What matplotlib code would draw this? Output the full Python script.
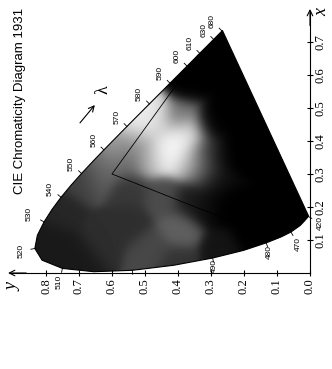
import numpy as np
import matplotlib.pyplot as plt
from matplotlib.patches import Polygon

# CIE 1931 spectral locus: wavelength (nm) and chromaticity x, y
wavelengths = [380, 390, 400, 410, 420, 430, 440, 450, 460, 470, 475, 480, 485, 490, 495,
               500, 505, 510, 515, 520, 525, 530, 535, 540, 545, 550, 555, 560, 565, 570,
               575, 580, 585, 590, 595, 600, 605, 610, 615, 620, 625, 630, 640, 650, 660,
               680, 700]
locus_x = [0.1741, 0.1738, 0.1733, 0.1726, 0.1714, 0.1689, 0.1644, 0.1566, 0.1440, 0.1241,
           0.1096, 0.0913, 0.0687, 0.0454, 0.0235, 0.0082, 0.0039, 0.0139, 0.0389, 0.0743,
           0.1142, 0.1547, 0.1929, 0.2296, 0.2658, 0.3016, 0.3373, 0.3731, 0.4087, 0.4441,
           0.4788, 0.5125, 0.5448, 0.5752, 0.6029, 0.6270, 0.6482, 0.6658, 0.6801, 0.6915,
           0.7006, 0.7079, 0.7190, 0.7260, 0.7300, 0.7334, 0.7347]
locus_y = [0.0050, 0.0049, 0.0048, 0.0048, 0.0051, 0.0069, 0.0109, 0.0177, 0.0297, 0.0578,
           0.0868, 0.1327, 0.2007, 0.2950, 0.4127, 0.5384, 0.6548, 0.7502, 0.8120, 0.8338,
           0.8262, 0.8059, 0.7816, 0.7543, 0.7243, 0.6923, 0.6589, 0.6245, 0.5896, 0.5547,
           0.5202, 0.4866, 0.4544, 0.4242, 0.3965, 0.3725, 0.3514, 0.3340, 0.3197, 0.3083,
           0.2993, 0.2920, 0.2809, 0.2740, 0.2700, 0.2666, 0.2653]

label_nm = [420, 470, 480, 490, 510, 520, 530, 540, 550, 560, 570, 580, 590, 600, 610, 630, 680]
tick_nm = label_nm + [500]
label_gap = {480: 10, 490: 8, 530: 17}

ticks_x = [0.1, 0.2, 0.3, 0.4, 0.5, 0.6, 0.7]
ticks_y = [0.0, 0.1, 0.2, 0.3, 0.4, 0.5, 0.6, 0.7, 0.8]

# inner triangle (two sides visible in the print)
gamut_x = [0.66, 0.30, 0.13]
gamut_y = [0.34, 0.60, 0.17]

# grey level of the print read at some spots
shade = [  # (x, y, level)
    (0.390, 0.410, 1.00), (0.360, 0.450, 0.95), (0.420, 0.370, 0.90), (0.340, 0.370, 0.85),
    (0.440, 0.460, 0.80), (0.350, 0.500, 0.65), (0.480, 0.400, 0.45), (0.310, 0.330, 0.40),
    (0.280, 0.290, 0.05), (0.360, 0.320, 0.30),
    (0.500, 0.480, 0.90), (0.444, 0.525, 0.95), (0.470, 0.500, 0.95), (0.373, 0.585, 0.65),
    (0.330, 0.620, 0.45), (0.300, 0.645, 0.35), (0.342, 0.560, 0.35), (0.400, 0.530, 0.55),
    (0.570, 0.379, 0.00), (0.600, 0.400, 0.00), (0.676, 0.300, 0.00), (0.450, 0.300, 0.00),
    (0.370, 0.210, 0.00), (0.350, 0.280, 0.00),
    (0.176, 0.090, 0.00), (0.115, 0.180, 0.00), (0.200, 0.250, 0.00), (0.070, 0.273, 0.08),
    (0.200, 0.320, 0.04),
    (0.190, 0.758, 0.15), (0.100, 0.800, 0.10), (0.050, 0.700, 0.10), (0.280, 0.700, 0.25),
    (0.100, 0.636, 0.18), (0.150, 0.550, 0.18), (0.250, 0.550, 0.22),
    (0.130, 0.394, 0.38), (0.070, 0.485, 0.28), (0.030, 0.400, 0.20), (0.230, 0.450, 0.30),
    (0.220, 0.360, 0.12),
]
shade_x = [s[0] for s in shade]
shade_y = [s[1] for s in shade]
shade_v = [s[2] for s in shade]

plt.rcParams['font.family'] = ['Liberation Serif', 'DejaVu Serif']

fig = plt.figure(figsize=(3.32, 3.69), dpi=100)
ax = fig.add_axes([0, 0, 1, 1])

# the page is turned: horizontal axis carries y (reversed), vertical carries x
gy = np.linspace(0, 0.85, 340)
gx = np.linspace(0, 0.75, 300)
GY, GX = np.meshgrid(gy, gx)
sx = np.array(shade_x)
sy = np.array(shade_y)
sv = np.array(shade_v)
d2 = (GX[..., None] - sx) ** 2 + (GY[..., None] - sy) ** 2
w = np.exp(-d2 / (2 * 0.033 ** 2))
grey = (w * sv).sum(-1) / (w.sum(-1) + 1e-9)

im = ax.imshow(grey, extent=(0, 0.85, 0, 0.75), origin='lower', cmap='gray',
               vmin=0, vmax=1, interpolation='bilinear', aspect='auto')
outline = Polygon(np.column_stack([locus_y, locus_x]), closed=True,
                  facecolor='none', edgecolor='black', lw=0.8)
ax.add_patch(outline)
im.set_clip_path(outline)

ax.plot(gamut_y, gamut_x, color='black', lw=0.6)

ax.set_xlim(0.9394, -0.0667)
ax.set_ylim(-0.2909, 0.8273)

# axes
for s in ['top', 'left']:
    ax.spines[s].set_visible(False)
ax.spines['bottom'].set_position(('data', 0))
ax.spines['right'].set_position(('data', 0))
ax.spines['bottom'].set_bounds(0, 0.91)
ax.spines['right'].set_bounds(0, 0.795)
ax.yaxis.tick_right()
ax.set_xticks(ticks_y)
ax.set_xticklabels([f'{v:.1f}' for v in ticks_y])
ax.set_yticks(ticks_x)
ax.set_yticklabels([f'{v:.1f}' for v in ticks_x], va='center')
ax.tick_params(axis='x', direction='inout', length=5, width=0.8, labelsize=9,
               labelrotation=90, pad=1)
ax.tick_params(axis='y', direction='inout', length=5, width=0.8, labelsize=9,
               labelrotation=90, pad=0.5)
ax.annotate('', xy=(0.915, 0), xytext=(0.86, 0),
            arrowprops=dict(arrowstyle='->', lw=0.8, color='black', shrinkA=0, shrinkB=0))
ax.annotate('', xy=(0, 0.80), xytext=(0, 0.75),
            arrowprops=dict(arrowstyle='->', lw=0.8, color='black', shrinkA=0, shrinkB=0))
ax.text(0.90, -0.042, 'y', rotation=90, fontsize=13, style='italic', ha='center', va='center')
ax.text(-0.036, 0.79, 'x', rotation=90, fontsize=13, style='italic', ha='center', va='center')

ax.text(0.879, 0.521, 'CIE Chromaticity Diagram 1931', rotation=90, fontsize=9.5,
        family='Liberation Sans', ha='center', va='center')

# wavelength ticks and labels along the locus
tr = ax.transData
inv = tr.inverted()
white = tr.transform((1 / 3, 1 / 3))
n = len(wavelengths)
for nm in tick_nm:
    i = wavelengths.index(nm)
    p = tr.transform((locus_y[i], locus_x[i]))
    a = tr.transform((locus_y[max(i - 1, 0)], locus_x[max(i - 1, 0)]))
    b = tr.transform((locus_y[min(i + 1, n - 1)], locus_x[min(i + 1, n - 1)]))
    t = (b - a) / np.hypot(*(b - a))
    nv = np.array([-t[1], t[0]])
    if np.dot(nv, p - white) < 0:
        nv = -nv
    seg = inv.transform([p, p + nv * 4])
    ax.plot(seg[:, 0], seg[:, 1], color='black', lw=0.6)
    if nm in label_nm:
        gap = label_gap.get(nm, 14)
        ax.annotate(str(nm), xy=(locus_y[i], locus_x[i]), xytext=nv * gap * 0.72,
                    textcoords='offset points', rotation=90, ha='center', va='center',
                    fontsize=6, family='Liberation Sans')

# lambda arrow
ax.annotate('', xy=(0.652, 0.509), xytext=(0.697, 0.455),
            arrowprops=dict(arrowstyle='->', lw=0.8, color='black', shrinkA=0, shrinkB=0))
ax.text(0.628, 0.555, 'λ', rotation=90, fontsize=13, ha='center', va='center')

fig.savefig('out.png', dpi=100)
